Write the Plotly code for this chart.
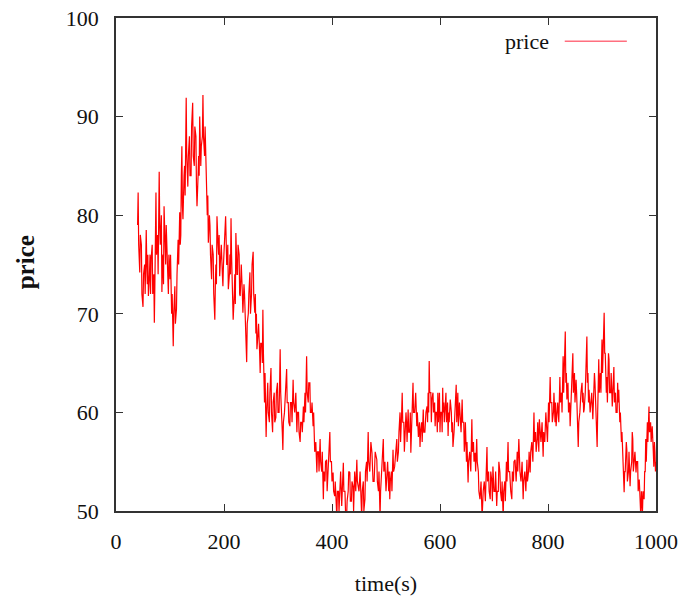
import plotly.graph_objects as go

time_s = [
    40,41,42,43,44,45,47,48,50,51, 53,54,56,57,58,59,60,62,63,64,
    65,67,68,70,71,72,74,75,77,78, 80,81,82,84,85,86,87,88,89,91,
    92,93,94,96,97,98,100,101,103,104, 106,107,109,110,112,113,115,116,118,119,
    120,121,122,123,124,126,127,128,130,131, 133,134,136,137,139,140,142,143,145,146,
    148,149,150,152,153,154,155,157,158,160, 161,162,164,165,167,168,169,170,171,173,
    174,175,177,178,180,181,183,184,185,186, 187,189,190,191,192,194,195,197,198,199,
    200,202,203,205,206,207,208,210,211,212, 213,214,215,216,217,219,220,221,222,224,
    225,226,228,229,230,232,233,234,235,237, 238,240,242,243,245,246,248,249,251,252,
    254,255,257,258,259,260,261,263,264,266, 267,268,270,271,272,273,275,276,278,279,
    281,282,284,285,287,288,290,291,293,294, 296,297,299,300,302,303,304,305,307,308,
    309,310,312,314,316,317,319,320,322,323, 325,326,328,329,331,333,335,336,338,339,
    341,342,344,345,347,348,350,351,353,354, 356,357,359,360,362,363,365,366,368,370,
    372,373,375,376,378,379,381,382,384,385, 387,388,390,391,393,394,396,397,399,400,
    402,403,405,406,409,410,412,413,415,416, 418,419,421,422,424,425,427,428,430,431,
    433,434,436,437,439,440,442,444,446,447, 450,452,455,456,458,459,461,462,464,465,
    467,468,470,472,474,476,478,480,483,484, 486,487,489,490,492,493,495,496,498,500,
    502,503,505,506,507,508,510,511,513,514, 516,518,520,521,523,524,526,527,528,529,
    530,531,533,534,535,537,538,539,541,542, 544,545,546,547,548,549,550,551,553,555,
    557,558,560,562,563,564,566,567,569,570, 572,574,576,577,578,579,580,581,583,584,
    585,587,588,590,591,592,594,595,596,597, 598,599,600,601,603,604,605,606,607,608,
    609,611,612,614,615,616,617,618,619,621, 622,623,624,626,627,628,630,631,632,633,
    634,636,637,639,641,642,644,645,646,647, 649,650,652,653,655,657,659,660,662,663,
    665,666,668,669,671,672,674,676,678,680, 682,684,687,688,690,691,693,694,696,697,
    698,700,702,703,705,706,708,709,711,712, 714,715,717,718,720,721,723,724,726,727,
    729,731,733,734,736,737,739,741,743,744, 746,748,750,752,754,755,757,759,761,762,
    764,765,767,768,770,772,774,775,777,778, 780,781,782,783,784,786,787,789,791,792,
    794,796,798,799,801,802,804,805,807,808, 810,811,813,814,815,817,818,820,822,823,
    825,826,828,829,830,831,832,833,834,835, 837,838,840,841,842,843,845,846,847,849,
    850,852,853,854,855,856,857,859,861,863, 864,865,866,867,869,870,871,872,873,874,
    875,876,878,879,881,883,884,885,886,887, 888,889,890,891,892,893,894,895,897,898,
    900,901,902,903,904,905,906,908,909,910, 911,912,913,914,916,917,919,920,921,922,
    923,925,926,928,929,930,931,933,934,936, 937,938,939,940,941,942,943,945,946,947,
    949,950,952,953,955,956,957,958,960,961, 963,964,966,967,969,970,971,972,973,975,
    976,978,979,980,981,982,984,985,987,988, 990,991,993,994,995,996,997,998,999,1000,
]

price = [
    79,82.3,77,76,74.2,78,77,72,70.7,74, 75,72,78.5,75,73,76,71.8,74,76,72,
    75.5,77,72,74,69.1,73,82.3,76,78,74, 84.4,79,77,80,72.2,75,76,73,80.9,78,
    75,79,76.8,74,72,76,73.5,76,70,72, 66.7,70,72.8,69,70.5,74,77.5,75,80.3,77,
    78,84,87,81,79.6,84,85,82,91.9,86, 82.9,86,88,84,84,89,91.4,86,85,89,
    88,83,80.9,84,86,84,90,85,87,88, 92.2,88,86,89,83.6,81,80,82,77.2,80,
    79,76,73.5,77,76,72,69.4,73,75,73, 79.9,77,76,78,73.8,76,77,74,72.8,75,
    76,78,79.9,75,75,77,72.5,74,76,74, 79.7,76,74,72,69.4,72,74,71,78.2,74,
    74,77,76,72,71.8,75,74,72,70.1,73, 72,68,65.1,69,70,72,74.2,70,72,75,
    76.3,72,70.1,72,68,70,66.4,68,69,66, 64,67,67,65,70.4,66,61,64,57.5,60,
    63,60,59,62,64.5,60,58,61,62,59, 59.5,62,63,60,60,63,66.4,62,60,58,
    56.2,59,60,62,64.4,61,61,59,58.6,61, 61,59,63.3,61,60,62,58,60,60,58,
    57,59,59,58,60.6,59,62,60,65.7,62, 61,63,63,60,60,61,58.6,60,56,57,
    53.9,56,56,54,57.3,55,54,56,51.2,54, 53,55,55.2,52,54,56,58,55,55,53,
    53.9,52,51.5,53,49.3,52,52,50,51.9,54, 50.5,52,54.9,52,52,50,49.3,51,52,54,
    53.9,51,51,53,52.5,50,54,52,55.2,53, 52,54,49.3,52,53,50,51.2,54,55,53,
    58,55,54,57,55.9,53,53,56,55.2,53, 52,54,49.4,52,54,56,57.3,54,55,52,
    53.9,55,52,54,51.2,53,54,52,56.2,54, 54.5,56,57.3,55,56,58,60,57,58,60,
    62,59,59,56,57.3,60,59,57,60.3,58, 58,60,55.9,58,59,61,63,60,60,62,
    58.6,60,57.5,59,56.5,58,59,57,60.3,58, 58,60,60.6,59,62,60,65.2,62,62,59,
    61.3,62,60,61,58.6,60,60,58,62,59, 60,62,58,60,60,58,62.5,60,61,59,
    60,62,59,61,57.6,60,59,61,61.3,60, 58,59,56.5,58,59,61,62.8,59,60,62,
    58.6,61,60,58,61.3,59,59,56,57,59, 55,57,52.9,55,56,54,59.3,56,57,55,
    55.9,54,57.3,55,54,52,51.2,53,49.3,52, 53,51,56.5,53,54,52,51.2,54,53,51,
    54.5,52,52,54,50.5,52,52,55,53.9,52, 51,53,49.3,52,53,51,55,53,57,54,
    54,52,51.2,54,53,55,55.2,53,56,54, 57.3,54,53,55,51.2,53,54,52,55.2,53,
    54,56,53.9,56,57,55,60,57,58,56, 57.3,59,58,56,59.3,58,57,59,55.5,58,
    57,60,58.6,57,61,59,63.6,61,61,59, 60,62,59,61,58.6,60,61,59,63.6,61,
    62,60,65.7,62,64,66,68.2,63,64,61.3, 63,60,61,58.6,60,62,64,66,62,64,
    61,63.3,62,60,58,56.5,59,60,62,63, 61,62,60,60.3,62,64,66,67.7,63,64,
    61,62.3,60,61,62,59.3,61,61,64,63, 61,60,58,56.5,60,62,65.4,62,64,62,
    67.4,64,66,68,70.1,66,66,62,63.6,61, 64,66,65.4,62,62,64,60.6,62,63,64.6,
    61,62,60,60,63,61,62.3,59,60,57, 58,56,55,53,51.9,54,54,57,56.2,53,
    54,56,52.5,54,55,58,57.3,54,55,56, 53.9,55,55,52,53.2,51,50.5,49.2,52,50,
    52,51.2,54,54,57.3,55,59,57,60.6,58, 59,57,58.6,56,56,54.5,57,56,54,55,
]

x_ticks = [0, 200, 400, 600, 800, 1000]
y_ticks = [50, 60, 70, 80, 90, 100]

FONT = "Liberation Serif"
AX = "#333333"
TXT = "#111111"

fig = go.Figure()
fig.add_trace(go.Scatter(
    x=time_s, y=price, mode="lines", name="price",
    line=dict(color="#ff0000", width=1.2), showlegend=False,
))

axis_common = dict(
    showline=True, linecolor=AX, linewidth=1.5, mirror="ticks",
    ticks="inside", ticklen=7, tickwidth=1.2, tickcolor=AX,
    showgrid=False, zeroline=False, automargin=False,
    ticklabeloverflow="allow",
    tickfont=dict(family=FONT, size=22, color=TXT),
)

fig.update_layout(
    width=686, height=602,
    margin=dict(l=116, r=30, t=18, b=91, autoexpand=False),
    paper_bgcolor="white", plot_bgcolor="white",
    xaxis=dict(range=[0, 1000], tickvals=x_ticks, ticklabelstandoff=10,
               title=dict(text="time(s)", font=dict(family=FONT, size=22, color=TXT), standoff=22),
               **axis_common),
    yaxis=dict(range=[50, 100], tickvals=y_ticks, ticklabelstandoff=11,
               **axis_common),
    showlegend=False,
)

# y-axis title
fig.add_annotation(xref="paper", yref="paper", x=-0.168, y=0.505, text="<b>price</b>",
                   textangle=-90, showarrow=False, xanchor="center", yanchor="middle",
                   font=dict(family=FONT, size=25, color=TXT))

# legend (gnuplot style: text then sample line)
fig.add_annotation(xref="paper", yref="paper", x=0.806, y=0.953, text="price",
                   showarrow=False, xanchor="right", yanchor="middle",
                   font=dict(family=FONT, size=22, color=TXT))
fig.add_shape(type="line", xref="paper", yref="paper", x0=0.831, x1=0.946, y0=0.953, y1=0.953,
              line=dict(color="#ff6f7f", width=1.5))

# remove the browser's default 8px page margin so the figure fills the window exactly
fig.write_html("out.html", config={"displayModeBar": False},
               post_script="document.body.style.margin='0';")
